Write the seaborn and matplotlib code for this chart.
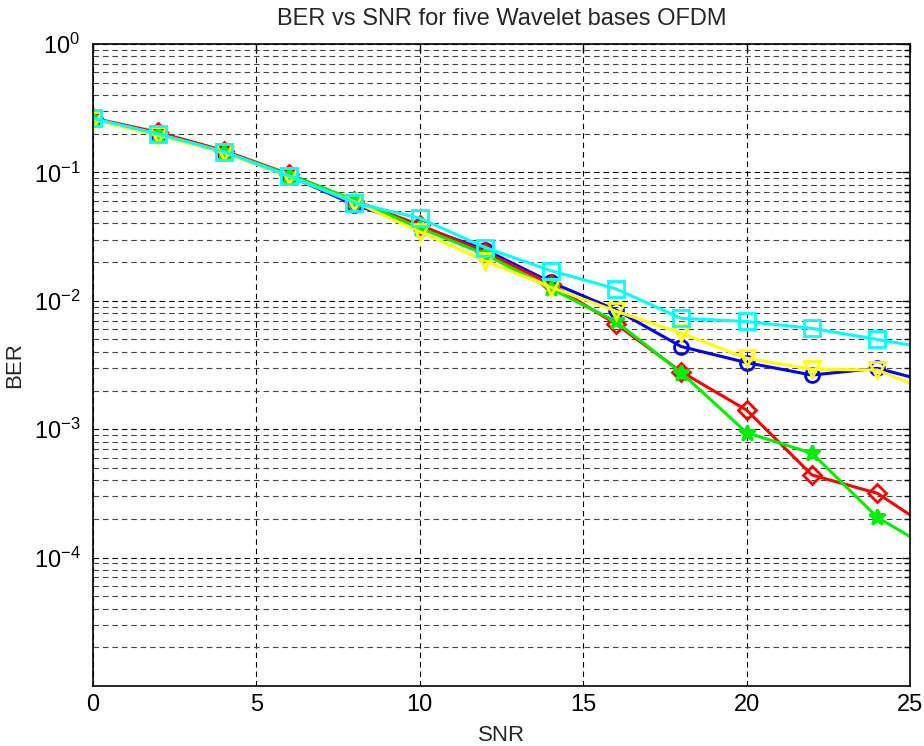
import numpy as np
import pandas as pd
import matplotlib
matplotlib.use("Agg")
import matplotlib.pyplot as plt
import seaborn as sns
from matplotlib.ticker import LogLocator, LogFormatterMathtext, NullFormatter, MultipleLocator, FixedLocator

snr = [0, 2, 4, 6, 8, 10, 12, 14, 16, 18, 20, 22, 24, 26]
ber_blue = [0.262, 0.199, 0.145, 0.094, 0.056, 0.038, 0.025, 0.0140, 0.0085, 0.0044, 0.0033, 0.00264, 0.00298, 0.0022]
ber_red = [0.265, 0.205, 0.148, 0.097, 0.060, 0.039, 0.024, 0.0135, 0.0066, 0.0028, 0.00141, 0.00044, 0.000317, 0.000146]
ber_green = [0.262, 0.199, 0.145, 0.096, 0.061, 0.037, 0.023, 0.0125, 0.0069, 0.00275, 0.00094, 0.00065, 0.000206, 0.000103]
ber_yellow = [0.258, 0.194, 0.143, 0.093, 0.059, 0.0345, 0.0205, 0.0128, 0.0083, 0.0056, 0.00357, 0.00293, 0.00289, 0.0018]
ber_cyan = [0.263, 0.199, 0.145, 0.094, 0.058, 0.044, 0.026, 0.0172, 0.0124, 0.0073, 0.0069, 0.0061, 0.0050, 0.0041]
ytick_values = [1e0, 1e-1, 1e-2, 1e-3, 1e-4]

title = "BER vs SNR for five Wavelet bases OFDM"
xlabel = "SNR"
ylabel = "BER"

sns.set_theme(style="white")
plt.rcParams["font.family"] = ["Liberation Sans", "DejaVu Sans"]
plt.rcParams["mathtext.fontset"] = "custom"
plt.rcParams["mathtext.rm"] = "Liberation Sans"
plt.rcParams["mathtext.it"] = "Liberation Sans:italic"

fig = plt.figure(figsize=(9.24, 7.46), dpi=100)
ax = fig.add_axes([93 / 924, 1 - 686 / 746, (910 - 93) / 924, (686 - 44) / 746])

series = [
    (ber_blue, "#0000ff", "o", 10),
    (ber_red, "#ff0000", "D", 9),
    (ber_green, "#00ee00", "*", 12),
    (ber_yellow, "#ffff00", "v", 11),
    (ber_cyan, "#00ffff", "s", 11),
]
for vals, col, mk, ms in series:
    df = pd.DataFrame({"SNR": snr, "BER": vals})
    fill = col if mk == "*" else "none"
    sns.lineplot(data=df, x="SNR", y="BER", ax=ax, color=col, linewidth=2.2,
                 marker=mk, markersize=ms, markerfacecolor=fill,
                 markeredgecolor=col, markeredgewidth=2.0, sort=False)

ax.set_yscale("log")
ax.set_xlim(0, 25)
ax.set_ylim(1e-5, 1)
ax.xaxis.set_major_locator(MultipleLocator(5))
ax.yaxis.set_major_locator(FixedLocator(ytick_values))
ax.yaxis.set_minor_locator(LogLocator(base=10, subs=np.arange(2, 10), numticks=20))
ax.yaxis.set_major_formatter(LogFormatterMathtext())
ax.yaxis.set_minor_formatter(NullFormatter())

dash = (0, (5, 3.5))
ax.grid(True, which="major", axis="both", color="black", linestyle=dash, linewidth=0.8)
ax.grid(True, which="minor", axis="y", color="#444444", linestyle=dash, linewidth=0.8)

ax.tick_params(axis="both", which="both", direction="in", top=True, right=True,
               labelsize=17, colors="black")
ax.tick_params(axis="x", which="major", pad=6)
ax.tick_params(axis="y", which="major", pad=9)
ax.tick_params(axis="both", which="major", length=6, width=1)
ax.tick_params(axis="y", which="minor", length=4, width=1)
for s in ax.spines.values():
    s.set_color("black")
    s.set_linewidth(1.2)

ax.set_title(title, fontsize=17, pad=14)
ax.set_xlabel(xlabel, fontsize=16, labelpad=6)
ax.set_ylabel(ylabel, fontsize=16, labelpad=6)

fig.savefig("out.png", dpi=100)
